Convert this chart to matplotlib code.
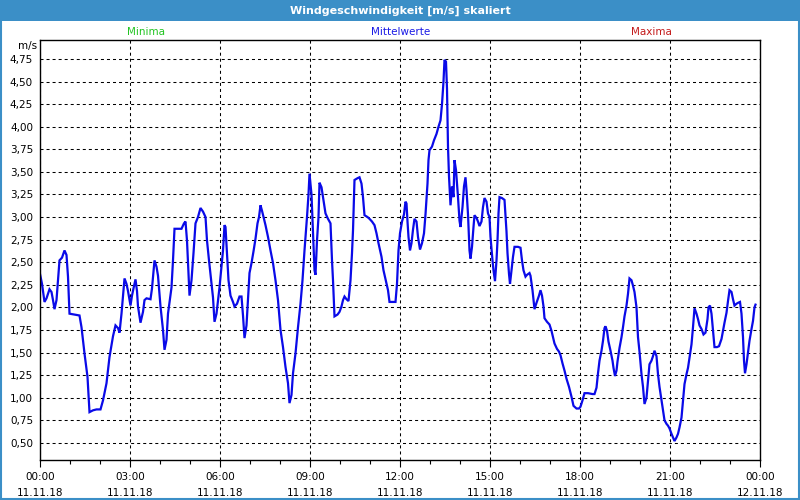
import matplotlib
matplotlib.use("Agg")
import matplotlib.pyplot as plt
from matplotlib.patches import Rectangle
from matplotlib.ticker import MultipleLocator

# wind speed averages, time in minutes since 11.11.18 00:00
minutes = [
    0, 4, 9, 13, 19, 23, 26, 29, 33, 36, 39, 44, 49, 53, 56, 59, 69, 79, 83, 89,
    95, 99, 106, 113, 121, 126, 133, 139, 146, 151, 156, 159, 163, 166, 169, 173,
    176, 181, 184, 187, 191, 194, 196, 201, 206, 209, 213, 221, 224, 229, 233, 236,
    241, 246, 249, 253, 256, 263, 266, 269, 276, 283, 288, 291, 294, 297, 299, 303,
    307, 311, 316, 321, 326, 331, 334, 338, 343, 346, 349, 353, 356, 359, 363, 366,
    369, 371, 374, 377, 381, 386, 389, 394, 399, 403, 406, 409, 413, 416, 419, 423,
    427, 431, 435, 438, 441, 444, 447, 451, 456, 461, 466, 471, 476, 481, 486, 491,
    496, 499, 503, 506, 511, 516, 521, 525, 529, 534, 537, 539, 543, 546, 549, 551,
    554, 557, 559, 563, 566, 571, 576, 581, 584, 586, 589, 595, 599, 603, 606, 609,
    613, 617, 621, 624, 626, 629, 635, 639, 643, 646, 649, 655, 659, 664, 669, 673,
    677, 683, 687, 693, 696, 699, 706, 711, 714, 717, 720, 724, 728, 731, 733, 735,
    737, 740, 743, 746, 749, 753, 756, 760, 764, 768, 771, 775, 777, 779, 784, 788,
    793, 797, 801, 804, 807, 809, 812, 814, 816, 818, 821, 824, 827, 829, 832, 836,
    839, 841, 845, 848, 851, 853, 856, 859, 861, 864, 867, 869, 873, 876, 879, 883,
    886, 889, 893, 896, 899, 901, 905, 907, 910, 913, 915, 917, 919, 924, 929, 933,
    935, 938, 940, 943, 946, 949, 956, 961, 964, 967, 971, 974, 979, 981, 985, 987,
    989, 993, 998, 1001, 1004, 1007, 1009, 1014, 1019, 1023, 1026, 1029, 1034, 1038,
    1041, 1045, 1049, 1053, 1058, 1063, 1067, 1073, 1078, 1081, 1085, 1089, 1096,
    1105, 1109, 1113, 1116, 1119, 1123, 1126, 1129, 1131, 1134, 1137, 1141, 1145,
    1147, 1150, 1153, 1155, 1159, 1163, 1166, 1169, 1173, 1176, 1179, 1183, 1186,
    1189, 1193, 1196, 1199, 1203, 1206, 1209, 1213, 1216, 1219, 1223, 1226, 1229,
    1233, 1236, 1239, 1243, 1246, 1249, 1253, 1256, 1259, 1263, 1266, 1269, 1273,
    1276, 1279, 1283, 1286, 1289, 1293, 1296, 1299, 1303, 1306, 1309, 1313, 1316,
    1319, 1323, 1327, 1331, 1335, 1337, 1340, 1343, 1346, 1349, 1354, 1358, 1363,
    1366, 1369, 1373, 1376, 1379, 1383, 1386, 1389, 1393, 1396, 1400, 1403, 1406,
    1408, 1410, 1413, 1416, 1419, 1423, 1426, 1429, 1431,
]
mittelwerte = [
    2.37, 2.26, 2.06, 2.10, 2.20, 2.17, 2.08, 1.98, 2.08, 2.30, 2.52, 2.55, 2.63, 2.58, 2.34, 1.93, 1.92, 1.91, 1.78, 1.49,
    1.23, 0.84, 0.86, 0.87, 0.87, 0.97, 1.16, 1.45, 1.68, 1.80, 1.77, 1.72, 1.93, 2.13, 2.32, 2.26,
    2.18, 2.02, 2.13, 2.21, 2.31, 2.18, 2.01, 1.83, 1.95, 2.08, 2.10, 2.09, 2.21, 2.52, 2.45, 2.35,
    2.01, 1.75, 1.53, 1.64, 1.93, 2.22, 2.52, 2.87, 2.87, 2.87, 2.93, 2.95, 2.74, 2.37, 2.13, 2.30,
    2.60, 2.93, 3.00, 3.10, 3.06, 3.00, 2.74, 2.52, 2.26, 2.11, 1.84, 1.93, 2.08, 2.22, 2.45, 2.63,
    2.91, 2.89, 2.60, 2.30, 2.13, 2.06, 2.01, 2.04, 2.12, 2.12, 1.91, 1.66, 1.80, 2.08, 2.38, 2.49,
    2.62, 2.76, 2.93, 3.00, 3.13, 3.07, 3.00, 2.91, 2.78, 2.63, 2.49, 2.30, 2.08, 1.75, 1.56, 1.34,
    1.16, 0.94, 1.03, 1.27, 1.49, 1.78, 2.04, 2.30, 2.63, 3.00, 3.25, 3.48, 3.25, 2.82, 2.41, 2.36,
    2.74, 3.00, 3.38, 3.33, 3.22, 3.04, 2.98, 2.93, 2.52, 2.30, 1.90, 1.92, 1.95, 2.01, 2.08, 2.12,
    2.09, 2.07, 2.30, 2.60, 2.85, 3.41, 3.43, 3.44, 3.37, 3.22, 3.02, 3.00, 2.98, 2.95, 2.91, 2.82,
    2.71, 2.56, 2.41, 2.26, 2.19, 2.06, 2.06, 2.06, 2.26, 2.63, 2.82, 2.95, 3.03, 3.17, 3.15, 2.95,
    2.78, 2.63, 2.71, 2.86, 2.98, 2.95, 2.78, 2.64, 2.71, 2.82, 3.03, 3.37, 3.63, 3.74, 3.78, 3.85,
    3.92, 4.00, 4.07, 4.25, 4.50, 4.74, 4.72, 4.42, 3.78, 3.45, 3.13, 3.34, 3.22, 3.63, 3.52, 3.22,
    2.96, 2.89, 3.11, 3.34, 3.44, 3.30, 3.03, 2.63, 2.54, 2.67, 2.89, 3.02, 2.99, 2.95, 2.90, 2.95,
    3.11, 3.21, 3.17, 3.04, 3.00, 2.78, 2.52, 2.41, 2.29, 2.52, 2.74, 3.04, 3.22, 3.21, 3.19, 2.84,
    2.60, 2.37, 2.26, 2.41, 2.56, 2.67, 2.67, 2.66, 2.52, 2.41, 2.34, 2.36, 2.38, 2.35, 2.19, 2.08,
    1.98, 2.05, 2.13, 2.19, 2.13, 2.01, 1.88, 1.84, 1.81, 1.74, 1.67, 1.60, 1.54, 1.51,
    1.47, 1.38, 1.30, 1.21, 1.12, 1.01, 0.91, 0.88, 0.88, 0.90, 0.97, 1.05, 1.05,
    1.04, 1.04, 1.11, 1.27, 1.41, 1.52, 1.63, 1.77, 1.79, 1.74, 1.62, 1.52, 1.41,
    1.33, 1.24, 1.30, 1.40, 1.55, 1.67, 1.78, 1.90, 2.02, 2.15, 2.32, 2.30, 2.24,
    2.17, 2.00, 1.67, 1.51, 1.26, 1.12, 0.93, 1.00, 1.19, 1.37, 1.41, 1.46, 1.52,
    1.46, 1.26, 1.12, 0.97, 0.86, 0.75, 0.71, 0.69, 0.66, 0.60, 0.56, 0.52, 0.56,
    0.60, 0.67, 0.78, 0.97, 1.15, 1.26, 1.33, 1.44, 1.59, 1.78, 1.99, 1.93, 1.87,
    1.80, 1.76, 1.70, 1.72, 1.87, 2.00, 2.02, 1.93, 1.74, 1.56, 1.56, 1.57, 1.65,
    1.74, 1.83, 1.94, 2.07, 2.19, 2.17, 2.09, 2.02, 2.04, 2.05, 2.06, 1.93, 1.67,
    1.41, 1.27, 1.37, 1.50, 1.63, 1.76, 1.85, 2.00, 2.03,
]

x_ticks = [0, 180, 360, 540, 720, 900, 1080, 1260, 1440]
x_labels = ["00:00\n11.11.18", "03:00\n11.11.18", "06:00\n11.11.18", "09:00\n11.11.18",
            "12:00\n11.11.18", "15:00\n11.11.18", "18:00\n11.11.18", "21:00\n11.11.18",
            "00:00\n12.11.18"]
y_ticks = [0.50, 0.75, 1.00, 1.25, 1.50, 1.75, 2.00, 2.25, 2.50, 2.75, 3.00, 3.25, 3.50, 3.75, 4.00, 4.25, 4.50, 4.75]

BAR_BLUE = "#3b8fc7"
plt.rcParams["font.family"] = ["DejaVu Sans"]
plt.rcParams["font.size"] = 7.5

fig = plt.figure(figsize=(8, 5), dpi=100)
fig.patch.set_facecolor("white")

# title bar and frame
fig.add_artist(Rectangle((0, 1 - 21 / 500), 1, 21 / 500, transform=fig.transFigure,
                         facecolor=BAR_BLUE, edgecolor="none"))
fig.add_artist(Rectangle((0.001, 0.002), 0.998, 0.996, transform=fig.transFigure,
                         facecolor="none", edgecolor=BAR_BLUE, linewidth=1.5))
fig.text(0.5, 1 - 10.5 / 500, "Windgeschwindigkeit [m/s] skaliert", color="white",
         fontweight="bold", ha="center", va="center", fontsize=8)

fig.text(146 / 800, 1 - 32 / 500, "Minima", color="#22c422", ha="center", va="center")
fig.text(401 / 800, 1 - 32 / 500, "Mittelwerte", color="#1a1ae6", ha="center", va="center")
fig.text(651 / 800, 1 - 32 / 500, "Maxima", color="#c41a1a", ha="center", va="center")
fig.text(37 / 800, 1 - 46 / 500, "m/s", ha="right", va="center")

ax = fig.add_axes([40 / 800, 40 / 500, 720 / 800, 420 / 500])
ax.plot(minutes, mittelwerte, color="#0a0ae8", linewidth=1.6, solid_joinstyle="miter")

ax.set_xlim(0, 1440)
ax.set_ylim(0.31, 4.96)
ax.set_xticks(x_ticks)
ax.set_xticklabels(x_labels, linespacing=1.7)
ax.xaxis.set_minor_locator(MultipleLocator(60))
ax.set_yticks(y_ticks)
ax.set_yticklabels([f"{v:.2f}".replace(".", ",") for v in y_ticks])

ax.tick_params(axis="x", which="major", length=5, width=0.8, pad=4)
ax.tick_params(axis="x", which="minor", length=3, width=0.8)
ax.tick_params(axis="y", length=0, pad=5)
ax.grid(True, which="major", color="black", linewidth=0.75, linestyle=(0, (2.9, 2.9)))
for s in ax.spines.values():
    s.set_linewidth(1.0)
    s.set_color("black")

fig.savefig("out.png", dpi=100)
